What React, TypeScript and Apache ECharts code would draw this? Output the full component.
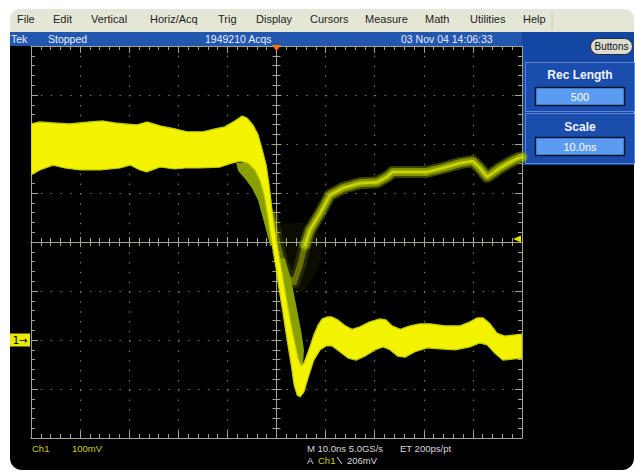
import React, { useEffect, useRef } from 'react';
import * as echarts from 'echarts';

// Time in ns (10 ns/div, trigger at 0), voltage in mV relative to Ch1 ground (100 mV/div)
const mainUpper: [number, number][] = [
  [-50, 441], [-48.2, 445], [-45.5, 443], [-42.1, 441], [-38, 445], [-35.3, 447], [-32.9, 443], [-30.9, 441],
  [-28.4, 439], [-26.4, 445], [-23.7, 437], [-20.7, 431], [-18.2, 425], [-15, 425], [-12.5, 431], [-10.5, 435],
  [-8.5, 447], [-7, 457], [-6, 453], [-4.8, 439], [-3.8, 420], [-3, 392], [-2.1, 357], [-1.5, 316], [-0.9, 265],
  [-0.3, 220], [0.3, 184], [1.1, 139], [1.9, 92], [2.7, 45], [3.6, 0], [4.4, -37], [5, -53], [5.6, -47],
  [6.6, -20], [7.6, 10], [8.5, 31], [9.3, 43], [10.3, 47], [11.3, 47], [12.5, 41], [14, 29], [15.4, 22],
  [17, 27], [19, 37], [21.1, 43], [22.3, 41], [23.5, 29], [25.2, 22], [27.2, 29], [29.2, 33], [31.3, 33],
  [34.3, 29], [37.4, 29], [39.4, 37], [40.8, 45], [42.1, 45], [43.5, 33], [44.9, 14], [46.5, 8], [48.2, 10], [50, 12],
];

const mainLower: [number, number][] = [
  [-50, 337], [-48.2, 347], [-45.5, 357], [-43.1, 351], [-40, 347], [-35.9, 347], [-31.9, 351], [-29.8, 357],
  [-27.8, 347], [-26.4, 343], [-23.7, 353], [-20.7, 349], [-18.6, 351], [-15.6, 351], [-11.5, 353], [-9.1, 361],
  [-7.4, 365], [-5.8, 361], [-4.4, 347], [-3.4, 327], [-2.5, 296], [-1.9, 261], [-1.3, 220], [-0.7, 184],
  [-0.1, 147], [0.5, 106], [1.3, 57], [2.1, 4], [3, -51], [3.6, -92], [4.2, -112], [4.8, -116], [5.6, -106],
  [6.4, -78], [7.6, -41], [8.9, -20], [10.1, -12], [11.3, -12], [12.9, -24], [14.6, -37], [16.2, -41], [18, -33],
  [20.1, -20], [21.7, -14], [23.1, -20], [24.7, -33], [26.2, -35], [28.2, -24], [30.7, -16], [33.3, -18],
  [36.4, -20], [39.4, -14], [41.4, -6], [42.9, -10], [44.5, -27], [46.1, -41], [48, -39], [50, -37],
];

// Lower-persistence (olive) regions beside the falling edge
const persistEarly: [number, number][] = [
  [-8.2, 361], [-5.8, 363], [-4.2, 351], [-3.2, 327], [-2.3, 296], [-1.7, 261], [-1.1, 220], [-0.7, 194],
  [-1.3, 192], [-2.1, 224], [-3, 257], [-3.8, 286], [-5, 310], [-6.4, 329], [-7.8, 345],
];
const persistLate: [number, number][] = [
  [0.7, 167], [1.7, 167], [3, 122], [4, 71], [5, 20], [5.6, -20], [5.4, -51], [4.8, -55], [4.2, -31],
  [3.4, 10], [2.5, 51], [1.7, 98], [0.9, 143],
];

// Sparse scatter around the shallow undershoot of the rare trace
const rareCloud: [number, number][] = [
  [0.7, 235], [4.8, 241], [8.5, 229], [9.3, 194], [8.5, 143], [5.8, 102], [3.2, 88], [1.1, 102], [0.3, 163],
];

// Rare trace: shallow undershoot (sparse) then upward recovery
const rareUndershoot: [number, number][] = [
  [-0.9, 255], [0.3, 194], [1.3, 153], [2.3, 127], [3.6, 118], [4.8, 153], [5.8, 194],
];
const rareRecovery: [number, number][] = [
  [5.8, 194], [6.8, 224], [8.9, 259], [10.9, 296], [13.5, 310], [17, 320], [20.5, 322], [22.5, 333],
  [23.7, 343], [27.2, 343], [30.7, 343], [33.9, 351], [37.4, 361], [40, 365], [41.4, 351], [42.9, 333],
  [44.1, 341], [45.5, 351], [47.6, 363], [49.2, 371], [50, 373],
];

const triggerLevel = 206; // mV
const menuItems = ['File', 'Edit', 'Vertical', 'Horiz/Acq', 'Trig', 'Display', 'Cursors', 'Measure', 'Math', 'Utilities', 'Help'];
const statusItems = ['Tek', 'Stopped', '1949210 Acqs', '03 Nov 04 14:06:33'];

const FONT = '"Liberation Sans", Arial, sans-serif';
const GR = '#a4a48a';
const DOT = '#78786a';

function polygonSeries(pts: [number, number][], fill: string, stroke: string | null, lw: number, z: number) {
  return {
    type: 'custom',
    coordinateSystem: 'cartesian2d',
    xAxisIndex: 0,
    yAxisIndex: 0,
    data: [pts[0]],
    encode: { x: 0, y: 1 },
    silent: true,
    clip: true,
    z,
    renderItem: (_p: any, api: any) => ({
      type: 'polygon',
      shape: { points: pts.map((p) => api.coord(p)) },
      style: stroke ? { fill, stroke, lineWidth: lw, lineJoin: 'round' } : { fill },
    }),
  };
}

function traceLine(data: [number, number][], width: number, color: string, type: any, extra: any = {}) {
  return {
    type: 'line', data, symbol: 'none', silent: true, z: 3, clip: true,
    lineStyle: { width, color, type, cap: 'round', join: 'round' },
    ...extra,
  };
}

function edgeX(pos: string, split: boolean) {
  return {
    type: 'value', min: -50, max: 50, interval: 10, position: pos,
    axisLine: { show: true, onZero: false, lineStyle: { color: GR, width: 1 } },
    axisTick: { show: true, inside: true, length: 7, lineStyle: { color: GR } },
    minorTick: { show: true, splitNumber: 5, length: 4, lineStyle: { color: GR } },
    axisLabel: { show: false },
    splitLine: { show: split, lineStyle: { color: DOT, width: 1.2, type: [1.5, 8.32] } },
    minorSplitLine: { show: false },
  };
}
function centerX(pos: string) {
  return {
    type: 'value', min: -50, max: 50, interval: 10, position: pos,
    axisLine: { show: true, onZero: true, onZeroAxisIndex: 2, lineStyle: { color: GR, width: 1 } },
    axisTick: { show: true, inside: true, length: 5, lineStyle: { color: GR } },
    minorTick: { show: true, splitNumber: 5, length: 4, lineStyle: { color: GR } },
    axisLabel: { show: false },
    splitLine: { show: false },
  };
}
function edgeY(pos: string, split: boolean) {
  return {
    type: 'value', min: -200, max: 600, interval: 100, position: pos,
    axisLine: { show: true, onZero: false, lineStyle: { color: GR, width: 1 } },
    axisTick: { show: true, inside: true, length: 7, lineStyle: { color: GR } },
    minorTick: { show: true, splitNumber: 5, length: 4, lineStyle: { color: GR } },
    axisLabel: { show: false },
    splitLine: { show: split, lineStyle: { color: DOT, width: 1.2, type: [1.5, 8.32] } },
    minorSplitLine: { show: false },
  };
}
function centerY(pos: string) {
  return {
    type: 'value', min: -4, max: 4, interval: 1, position: pos,
    axisLine: { show: true, onZero: true, onZeroAxisIndex: 0, lineStyle: { color: GR, width: 1 } },
    axisTick: { show: true, inside: true, length: 5, lineStyle: { color: GR } },
    minorTick: { show: true, splitNumber: 5, length: 4, lineStyle: { color: GR } },
    axisLabel: { show: false },
    splitLine: { show: false },
  };
}

function txt(text: string, x: number, y: number, size: number, fill: string, extra: any = {}) {
  return {
    type: 'text', x, y, z: 5,
    style: { text, fill, font: `${extra.weight || 'normal'} ${size}px ${FONT}`, textAlign: extra.align || 'left', textVerticalAlign: 'middle' },
  };
}

function buildOption() {
  const menuX = [17, 53, 91, 150, 218, 256, 310, 365, 425, 470, 523];
  const statusX = [11, 48, 205, 401];
  const graphics: any[] = [
    { type: 'rect', z: -20, shape: { x: 10, y: 9, width: 624, height: 26, r: [9, 9, 0, 0] }, style: { fill: '#e5e7d6' } },
    { type: 'line', z: -19, shape: { x1: 552, y1: 12, x2: 552, y2: 31 }, style: { stroke: '#c6c8b6', lineWidth: 1 } },
    { type: 'rect', z: -20, shape: { x: 10, y: 32, width: 624, height: 438, r: [0, 0, 12, 12] }, style: { fill: '#000000' } },
    { type: 'rect', z: -19, shape: { x: 10, y: 32, width: 512, height: 14 }, style: { fill: '#2257ad' } },
    { type: 'rect', z: -19, shape: { x: 522, y: 32, width: 112, height: 133 }, style: { fill: '#1446a4' } },
    { type: 'rect', z: -18, shape: { x: 525.5, y: 62.5, width: 109, height: 49 }, style: { fill: '#1a4dac', stroke: '#5a88d6', lineWidth: 1 } },
    { type: 'rect', z: -18, shape: { x: 525.5, y: 113.5, width: 109, height: 50 }, style: { fill: '#1a4dac', stroke: '#5a88d6', lineWidth: 1 } },
    { type: 'rect', z: -17, shape: { x: 535.5, y: 87.5, width: 89, height: 18 }, style: { fill: '#5b9bf2', stroke: '#07142e', lineWidth: 1.5 } },
    { type: 'rect', z: -17, shape: { x: 535.5, y: 137.5, width: 89, height: 18 }, style: { fill: '#5b9bf2', stroke: '#07142e', lineWidth: 1.5 } },
    { type: 'rect', z: -17, shape: { x: 590.5, y: 38.5, width: 42, height: 16, r: 8 }, style: { fill: '#dcddd2', stroke: '#2a2a2a', lineWidth: 1 } },
    { type: 'line', z: 5, shape: { x1: 337, y1: 457, x2: 342, y2: 464 }, style: { stroke: '#d8d8d8', lineWidth: 1 } },
    txt('Buttons', 611.5, 46.5, 10, '#111111', { align: 'center' }),
    txt('Rec Length', 580, 75, 12, '#f2f4ff', { align: 'center', weight: 'bold' }),
    txt('500', 580, 96.5, 11, '#ffffff', { align: 'center' }),
    txt('Scale', 580, 127, 12, '#f2f4ff', { align: 'center', weight: 'bold' }),
    txt('10.0ns', 580, 146.5, 11, '#ffffff', { align: 'center' }),
    txt('Ch1', 32, 448.5, 9.5, '#cfcf1c'),
    txt('100mV', 72, 448.5, 9.5, '#cfcf1c'),
    txt('M 10.0ns 5.0GS/s', 307, 448.5, 9.5, '#d8d8d8'),
    txt('ET 200ps/pt', 400, 448.5, 9.5, '#d8d8d8'),
    txt('A', 307, 460.5, 9.5, '#d8d8d8'),
    txt('Ch1', 318, 460.5, 9.5, '#cfcf1c'),
    txt('206mV', 347, 460.5, 9.5, '#d8d8d8'),
  ];
  menuItems.forEach((m, i) => graphics.push(txt(m, menuX[i], 18.5, 11, '#1c1c1c')));
  statusItems.forEach((s, i) => graphics.push(txt(s, statusX[i], 38.5, 10.5, '#e9edff')));

  return {
    animation: false,
    backgroundColor: '#ffffff',
    grid: { left: 31, top: 46, width: 491, height: 392, containLabel: false },
    xAxis: [edgeX('bottom', true), edgeX('top', false), centerX('bottom'), centerX('top')],
    yAxis: [edgeY('left', true), edgeY('right', false), centerY('left'), centerY('right')],
    graphic: { elements: graphics },
    series: [
      polygonSeries(rareCloud, 'rgba(150,170,0,0.08)', null, 0, 2),
      traceLine(rareUndershoot, 12, 'rgba(120,140,0,0.22)', 'solid'),
      traceLine(rareUndershoot, 6, 'rgba(190,205,0,0.45)', [1, 3]),
      traceLine(rareRecovery, 12, 'rgba(130,155,0,0.45)', 'solid'),
      traceLine(rareRecovery, 8, 'rgba(200,215,0,0.55)', [1, 2]),
      traceLine(rareRecovery, 3, 'rgba(215,228,0,0.8)', [2, 1.5], {
        markPoint: {
          silent: true,
          data: [
            { coord: [0, 600], symbol: 'triangle', symbolRotate: 180, symbolSize: [9, 6], symbolOffset: [0, 2], itemStyle: { color: '#ff7300' }, label: { show: false } },
            { coord: [50, triggerLevel], symbol: 'triangle', symbolRotate: 90, symbolSize: [7, 8], symbolOffset: [-5, 0], itemStyle: { color: '#e4e400' }, label: { show: false } },
            {
              coord: [-50, 0], symbol: 'rect', symbolSize: [20, 13], symbolOffset: [-11, 0], itemStyle: { color: '#e8e800' },
              label: { show: true, position: 'inside', formatter: '1\u2192', color: '#000', fontSize: 10, fontFamily: '"DejaVu Sans", sans-serif' },
            },
          ],
        },
      }),
      polygonSeries(persistEarly, '#8aa000', null, 0, 4),
      polygonSeries(persistLate, '#8aa000', null, 0, 4),
      polygonSeries(mainUpper.concat(mainLower.slice().reverse()), '#f3f300', '#c0cc00', 1.2, 5),
    ],
  };
}

export default function App() {
  const ref = useRef<HTMLDivElement>(null);
  useEffect(() => {
    const chart = echarts.init(ref.current!, null, { renderer: 'svg' });
    chart.setOption(buildOption() as any);
    return () => chart.dispose();
  }, []);
  return <div ref={ref} style={{ position: 'fixed', left: 0, top: 0, width: 635, height: 473, background: '#fff' }} />;
}
